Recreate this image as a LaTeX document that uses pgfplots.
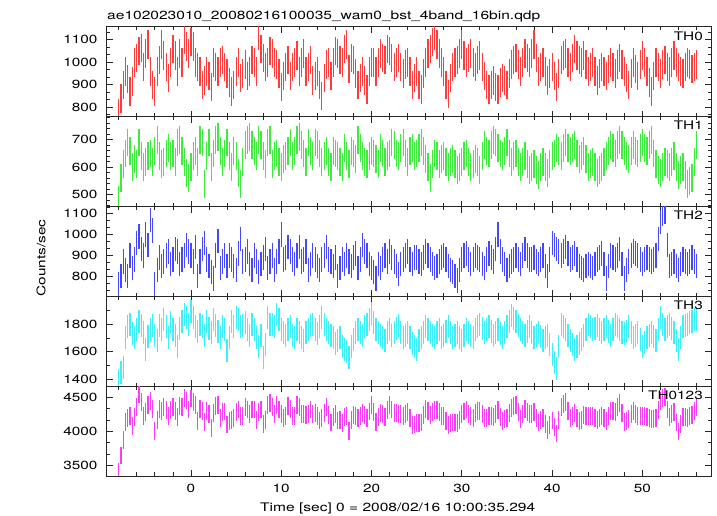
\documentclass[border=0pt]{standalone}
\usepackage{fontspec}
\setmainfont{TeX Gyre Heros}
\usepackage{graphicx}
\usepackage{pgfplots}
\usepackage{pgfplotstable}
\pgfplotsset{compat=1.18}
\newcommand\W[1]{\scalebox{1.3}[1]{#1}}
\definecolor{cR}{RGB}{255,60,60}
\definecolor{cG}{RGB}{60,235,60}
\definecolor{cB}{RGB}{70,70,250}
\definecolor{cC}{RGB}{60,240,250}
\definecolor{cM}{RGB}{250,60,250}
\pgfplotstableread{
t th0 th1 th2 th3 tall
-8.0 775 480 760 1390 3405
-7.75 840 560 800 1450 3650
-7.5 900 610 870 1490 3870
-7.25 960 650 830 1700 4140
-7.0 925 690 800 1780 4195
-6.75 870 660 900 1800 4230
-6.5 915 600 840 1730 4085
-6.25 1000 630 880 1700 4210
-6.0 1020 610 960 1760 4350
-5.75 1050 690 990 1820 4550
-5.5 1065 640 930 1790 4425
-5.25 980 600 900 1740 4220
-5.0 1040 620 1000 1620 4280
-4.75 1080 640 950 1710 4380
-4.5 960 650 1070 1760 4440
-4.25 900 620 1020 1790 4330
-4.0 870 660 760 1720 4010
-3.75 960 700 830 1680 4170
-3.5 1010 640 890 1790 4330
-3.25 1080 610 850 1760 4300
-3.0 1030 620 870 1830 4350
-2.75 980 650 900 1780 4310
-2.5 930 670 920 1700 4220
-2.25 1000 640 860 1810 4310
-2.0 1060 650 880 1760 4350
-1.75 1030 620 930 1720 4300
-1.5 960 690 920 1640 4210
-1.25 1040 700 860 1770 4370
-1.0 1000 660 880 1820 4360
-0.75 1100 620 900 1870 4490
-0.5 1070 580 950 1850 4450
-0.25 1040 560 920 1800 4320
0.0 1090 600 900 1890 4480
0.25 1070 640 870 1850 4430
0.5 1000 660 940 1780 4380
0.75 980 620 800 1750 4150
1.0 960 700 870 1800 4330
1.25 900 690 930 1780 4300
1.5 920 540 960 1720 4140
1.75 960 640 880 1820 4300
2.0 940 690 850 1770 4250
2.25 890 600 820 1740 4050
2.5 1000 650 790 1830 4270
2.75 980 700 900 1790 4370
3.0 960 710 970 1750 4390
3.25 1000 660 840 1700 4200
3.5 1010 620 870 1780 4280
3.75 980 650 900 1760 4290
4.0 950 690 850 1610 4100
4.25 910 640 900 1700 4150
4.5 870 600 880 1820 4170
4.75 900 660 850 1780 4190
5.0 960 640 830 1850 4280
5.25 1000 580 910 1830 4320
5.5 930 540 980 1780 4230
5.75 950 620 870 1790 4230
6.0 990 680 880 1810 4360
6.25 940 700 920 1760 4320
6.5 960 710 860 1720 4250
6.75 1010 680 830 1800 4320
7.0 1000 660 900 1760 4320
7.25 960 640 870 1700 4170
7.5 1120 700 820 1640 4280
7.75 1060 680 860 1720 4320
8.0 1020 640 890 1560 4110
8.25 980 610 930 1650 4170
8.5 1000 690 840 1850 4380
8.75 1050 700 870 1800 4420
9.0 1040 610 900 1800 4350
9.25 1000 640 830 1780 4250
9.5 990 650 870 1870 4380
9.75 950 620 920 1830 4320
10.0 890 600 1000 1760 4250
10.25 940 630 880 1740 4190
10.5 980 640 890 1720 4230
10.75 1010 660 940 1760 4370
11.0 940 690 920 1780 4330
11.25 980 640 880 1720 4220
11.5 1000 660 860 1700 4220
11.75 1030 700 900 1760 4390
12.0 960 710 940 1740 4350
12.25 1000 680 870 1700 4250
12.5 1040 650 880 1680 4250
12.75 960 620 920 1740 4240
13.0 980 690 830 1760 4260
13.25 1010 660 860 1790 4320
13.5 920 640 900 1800 4260
13.75 940 690 880 1760 4270
14.0 960 680 850 1730 4220
14.25 900 650 830 1780 4160
14.5 850 620 880 1850 4200
14.75 930 640 900 1800 4270
15.0 990 660 940 1760 4350
15.25 1000 620 880 1740 4240
15.5 940 600 870 1720 4130
15.75 1000 660 850 1700 4210
16.0 1050 650 890 1660 4250
16.25 1040 640 800 1680 4160
16.5 1010 620 840 1700 4170
16.75 1000 600 880 1640 4120
17.0 1060 670 860 1620 4210
17.25 1080 640 900 1600 4220
17.5 970 610 870 1560 4010
17.75 1020 660 850 1640 4170
18.0 1010 650 890 1690 4240
18.25 950 630 910 1740 4230
18.5 900 700 840 1760 4200
18.75 930 670 880 1740 4220
19.0 960 640 950 1720 4270
19.25 920 620 920 1780 4240
19.5 880 610 900 1800 4190
19.75 960 640 860 1830 4290
20.0 1000 660 840 1880 4380
20.25 1000 650 820 1810 4280
20.5 960 630 790 1760 4140
20.75 1000 610 860 1740 4210
21.0 1040 670 840 1720 4270
21.25 1020 650 880 1700 4250
21.5 1010 620 900 1680 4210
21.75 1060 640 870 1740 4310
22.0 1050 650 920 1760 4380
22.25 1020 690 890 1720 4320
22.5 980 680 870 1740 4270
22.75 1000 650 850 1770 4270
23.0 1020 640 810 1790 4260
23.25 980 670 860 1740 4250
23.5 950 690 880 1700 4220
23.75 990 650 900 1720 4260
24.0 1000 620 920 1740 4280
24.25 960 660 880 1700 4200
24.5 900 670 860 1660 4090
24.75 930 640 890 1640 4100
25.0 960 650 890 1620 4120
25.25 900 670 870 1680 4120
25.5 880 690 860 1700 4130
25.75 950 660 890 1740 4240
26.0 1000 630 920 1780 4330
26.25 1040 600 900 1760 4300
26.5 1060 560 880 1740 4240
26.75 1090 610 860 1720 4280
27.0 1120 650 840 1700 4310
27.25 1080 640 850 1740 4310
27.5 1040 610 870 1760 4280
27.75 1000 630 890 1700 4220
28.0 960 640 900 1720 4220
28.25 900 620 880 1750 4150
28.5 860 600 850 1780 4090
28.75 930 620 830 1740 4120
29.0 980 630 820 1700 4130
29.25 1000 610 800 1720 4130
29.5 1010 590 780 1740 4120
29.75 1040 600 830 1700 4170
30.0 1080 620 880 1680 4260
30.25 1030 640 900 1720 4290
30.5 1000 650 910 1760 4320
30.75 1020 620 880 1740 4260
31.0 1040 600 860 1720 4220
31.25 1000 610 880 1700 4190
31.5 980 630 900 1760 4270
31.75 1010 620 890 1780 4300
32.0 1030 590 880 1800 4300
32.25 980 640 860 1770 4250
32.5 940 680 840 1740 4200
32.75 900 660 880 1760 4200
33.0 880 650 910 1780 4220
33.25 900 680 890 1750 4220
33.5 920 700 870 1720 4210
33.75 890 690 930 1740 4250
34.0 880 670 1000 1760 4310
34.25 910 650 920 1730 4210
34.5 930 640 880 1700 4150
34.75 920 660 860 1740 4180
35.0 900 690 830 1780 4200
35.25 950 650 850 1820 4270
35.5 990 620 870 1860 4340
35.75 1010 640 880 1840 4370
36.0 1020 650 900 1820 4390
36.25 990 620 880 1790 4280
36.5 960 600 860 1760 4180
36.75 1000 620 900 1740 4260
37.0 1040 640 930 1720 4330
37.25 1020 610 900 1750 4280
37.5 1000 590 880 1780 4250
37.75 1040 600 880 1740 4260
38.0 1080 610 890 1700 4280
38.25 1020 590 870 1720 4200
38.5 960 570 860 1740 4130
38.75 980 600 880 1710 4170
39.0 1000 620 900 1680 4200
39.25 960 600 850 1700 4110
39.5 920 580 800 1720 4020
39.75 950 610 880 1650 4090
40.0 980 640 960 1580 4160
40.25 940 650 950 1520 4060
40.5 890 670 930 1480 3970
40.75 950 660 920 1640 4170
41.0 1010 640 900 1800 4350
41.25 1030 670 920 1780 4400
41.5 1040 690 940 1760 4430
41.75 1000 670 910 1720 4300
42.0 980 660 880 1680 4200
42.25 1020 670 890 1650 4230
42.5 1060 680 910 1620 4270
42.75 1030 650 880 1640 4200
43.0 1010 630 850 1660 4150
43.25 1000 640 840 1690 4170
43.5 1030 660 830 1720 4240
43.75 990 630 850 1760 4230
44.0 960 600 860 1800 4220
44.25 980 610 850 1780 4220
44.5 1000 620 840 1760 4220
44.75 960 600 860 1770 4190
45.0 920 580 880 1790 4170
45.25 950 590 890 1760 4190
45.5 980 600 910 1740 4230
45.75 960 620 860 1760 4200
46.0 940 640 790 1780 4150
46.25 970 660 850 1750 4230
46.5 1000 680 900 1720 4300
46.75 980 670 890 1760 4300
47.0 950 650 880 1800 4280
47.25 990 680 900 1780 4350
47.5 1020 700 930 1760 4410
47.75 990 680 860 1740 4270
48.0 960 660 790 1730 4140
48.25 930 640 830 1750 4150
48.5 900 630 870 1780 4180
48.75 950 660 900 1740 4250
49.0 1000 680 920 1700 4300
49.25 970 660 910 1720 4260
49.5 940 650 900 1740 4230
49.75 990 670 880 1690 4230
50.0 1030 690 860 1640 4220
50.25 1000 670 880 1670 4220
50.5 960 660 890 1700 4210
50.75 910 680 880 1720 4190
51.0 870 700 870 1740 4180
51.25 940 650 880 1710 4180
51.5 1000 610 900 1680 4190
51.75 980 590 980 1760 4310
52.0 950 580 1060 1850 4440
52.25 990 600 1100 1800 4490
52.5 1010 620 1110 1760 4500
52.75 980 610 950 1780 4320
53.0 960 600 850 1800 4210
53.25 1000 620 860 1770 4250
53.5 1030 640 870 1740 4280
53.75 1000 600 850 1680 4130
54.0 980 570 830 1620 4000
54.25 960 590 860 1700 4110
54.5 950 600 880 1780 4210
54.75 980 570 870 1790 4210
55.0 1000 540 860 1800 4200
55.25 990 550 870 1810 4220
55.5 970 560 890 1820 4240
55.75 980 620 870 1830 4300
56.0 990 680 850 1830 4350
}\datatable
\pgfplotsset{
  qdp/.style={
    scale only axis, width=604bp, height=89.8bp, anchor=north west,
    xmin=-9.3, xmax=57.6,
    xtick={0,10,20,30,40,50},
    minor xtick={-8,-6,-4,-2,2,4,6,8,12,14,16,18,22,24,26,28,32,34,36,38,42,44,46,48,52,54,56},
    xticklabel={\relax},
    yticklabel={\W{\pgfmathprintnumber{\tick}}},
    xticklabel pos=left, yticklabel pos=left,
    tick align=inside, tick pos=both,
    major tick length=6bp, minor tick length=3.5bp,
    axis line style={line width=1bp, black!85},
    every tick/.style={line width=0.8bp, black!85},
    every minor tick/.style={line width=0.8bp, black!85},
    /pgf/number format/assume math mode=true,
    /pgf/number format/1000 sep={},
    tick label style={font=\fontsize{11.8bp}{14bp}\selectfont},
    yticklabel style={xshift=-6bp},
    xticklabel style={yshift=-5bp},
    clip marker paths=true,
  },
  ebar/.style n args={2}{only marks, color=#1, mark=|, mark size=#2,
    mark options={color=#1, line width=1.2bp}},
}
\tikzset{lab/.style={anchor=north east, inner sep=0pt, xshift=-8bp, yshift=-4.4bp,
    font=\fontsize{11.8bp}{14bp}\selectfont}}
\begin{document}
\begin{tikzpicture}[font=\fontsize{11.8bp}{14bp}\selectfont]
\path[use as bounding box] (0,0) rectangle (717bp,516bp);
\node[anchor=base west, inner sep=0pt] at (107bp,496bp) {\resizebox{433bp}{\height}{ae102023010\_20080216100035\_wam0\_bst\_4band\_16bin.qdp}};
\begin{axis}[qdp, at={(107bp,489bp)}, ymin=758, ymax=1157,
  ytick={800,900,1000,1100},
  minor ytick={766.667,833.333,866.667,933.333,966.667,1033.333,1066.667,1133.333}]
\addplot[ebar={cR}{14.18bp}] table[x=t, y=th0] {\datatable};
\node[lab] at (rel axis cs:1,1) {\W{TH0}};
\end{axis}
\begin{axis}[qdp, at={(107bp,399.2bp)}, ymin=456, ymax=784,
  ytick={500,600,700},
  minor ytick={460,480,520,540,560,580,620,640,660,680,720,740,760,780}]
\addplot[ebar={cG}{13.96bp}] table[x=t, y=th1] {\datatable};
\node[lab] at (rel axis cs:1,1) {\W{TH1}};
\end{axis}
\begin{axis}[qdp, at={(107bp,309.4bp)}, ymin=703, ymax=1135,
  ytick={800,900,1000,1100},
  minor ytick={733.333,766.667,833.333,866.667,933.333,966.667,1033.333,1066.667,1133.333}]
\addplot[ebar={cB}{12.26bp}] table[x=t, y=th2] {\datatable};
\node[lab] at (rel axis cs:1,1) {\W{TH2}};
\end{axis}
\begin{axis}[qdp, at={(107bp,219.6bp)}, ymin=1352, ymax=2000,
  ytick={1400,1600,1800},
  minor ytick={1500,1700,1900}]
\addplot[ebar={cC}{11.5bp}] table[x=t, y=th3] {\datatable};
\node[lab] at (rel axis cs:1,1) {\W{TH3}};
\end{axis}
\begin{axis}[qdp, at={(107bp,129.8bp)}, ymin=3351, ymax=4659,
  ytick={3500,4000,4500},
  minor ytick={3666.667,3833.333,4166.667,4333.333},
  xticklabel={\W{\pgfmathprintnumber{\tick}}}]
\addplot[ebar={cM}{8.92bp}] table[x=t, y=tall] {\datatable};
\node[lab] at (rel axis cs:1,1) {\W{TH0123}};
\end{axis}
\node[anchor=base west, inner sep=0pt] at (260bp,4.3bp) {\resizebox{275bp}{\height}{Time [sec] 0 = 2008/02/16 10:00:35.294}};
\node[rotate=90, anchor=center, inner sep=0pt] at (41bp,258bp) {\resizebox{77bp}{\height}{Counts/sec}};
\end{tikzpicture}
\end{document}
